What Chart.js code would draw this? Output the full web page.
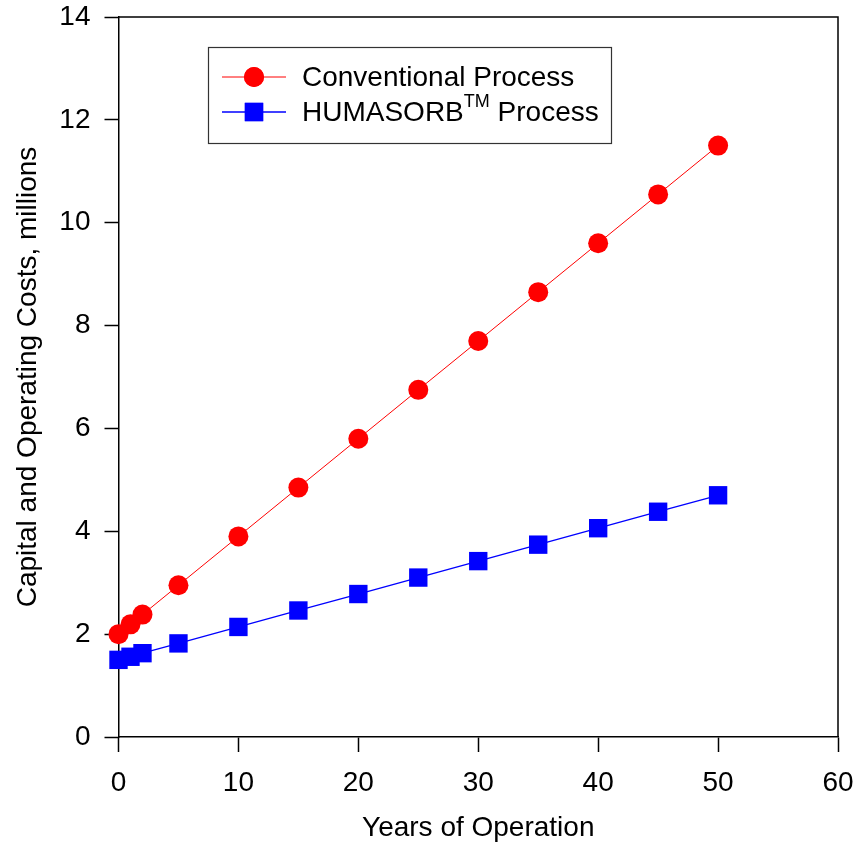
<!DOCTYPE html>
<html>
<head>
<meta charset="utf-8">
<script src="https://cdn.jsdelivr.net/npm/chart.js@4/dist/chart.umd.min.js"></script>
<style>
  html, body { margin: 0; padding: 0; background: #fff; }
  #wrap { width: 857px; height: 845px; position: relative; }
</style>
</head>
<body>
<div id="wrap"><canvas id="chartArea"></canvas></div>
<script>
'use strict'
// data
var years = [0, 1, 2, 5, 10, 15, 20, 25, 30, 35, 40, 45, 50];
var conventional = [2.0, 2.19, 2.38, 2.95, 3.9, 4.85, 5.8, 6.75, 7.7, 8.65, 9.6, 10.55, 11.5];
var humasorb = [1.5, 1.56, 1.63, 1.82, 2.14, 2.46, 2.78, 3.1, 3.42, 3.74, 4.06, 4.38, 4.7];
var xTicks = [0, 10, 20, 30, 40, 50, 60];
var yTicks = [0, 2, 4, 6, 8, 10, 12, 14];

var FONT = 'Liberation Sans, Arial, sans-serif';
var FSIZE = 28;

function pts(xs, ys) {
    let out = [];
    for (let i = 0; i < xs.length; i++) {
        out.push({x: xs[i], y: ys[i]});
    }
    return out;
}

// box round the plot (top and right sides)
const frame = {
    id: 'frame',
    afterDraw(chart) {
        let a = chart.chartArea;
        let ctx = chart.ctx;
        ctx.save();
        ctx.strokeStyle = '#000';
        ctx.lineWidth = 1.5;
        ctx.beginPath();
        ctx.moveTo(a.left, a.top);
        ctx.lineTo(a.right, a.top);
        ctx.lineTo(a.right, a.bottom);
        ctx.stroke();
        ctx.restore();
    }
};

// boxed legend inside the plot
const boxLegend = {
    id: 'boxLegend',
    afterDraw(chart) {
        let ctx = chart.ctx;
        ctx.save();
        ctx.strokeStyle = '#333';
        ctx.lineWidth = 1.2;
        ctx.strokeRect(208.5, 47.5, 403, 96);

        let rows = [
            {ds: chart.data.datasets[0], y: 77, text: 'Conventional Process'},
            {ds: chart.data.datasets[1], y: 112, text: 'HUMASORB', sup: 'TM', after: ' Process'}
        ];
        rows.forEach(function(r) {
            ctx.strokeStyle = r.ds.borderColor;
            ctx.lineWidth = r.ds.borderWidth;
            ctx.beginPath();
            ctx.moveTo(222, r.y);
            ctx.lineTo(286, r.y);
            ctx.stroke();
            ctx.fillStyle = r.ds.pointBackgroundColor;
            Chart.helpers.drawPoint(ctx, {
                pointStyle: r.ds.pointStyle,
                radius: r.ds.pointRadius,
                borderWidth: 0
            }, 254, r.y);
            ctx.fill();

            ctx.fillStyle = '#000';
            ctx.textBaseline = 'middle';
            ctx.textAlign = 'left';
            ctx.font = FSIZE + 'px ' + FONT;
            let x = 302;
            ctx.fillText(r.text, x, r.y + 1);
            if (r.sup) {
                x += ctx.measureText(r.text).width;
                ctx.font = '18px ' + FONT;
                ctx.fillText(r.sup, x, r.y - 10);
                x += ctx.measureText(r.sup).width;
                ctx.font = FSIZE + 'px ' + FONT;
                ctx.fillText(r.after, x, r.y + 1);
            }
        });
        ctx.restore();
    }
};

let ctx = document.getElementById('chartArea').getContext('2d');
let chart = new Chart(ctx, {
    type: 'line',
    data: {
        datasets: [{
            label: 'Conventional Process',
            data: pts(years, conventional),
            borderColor: '#ff0000',
            borderWidth: 1,
            pointStyle: 'circle',
            pointRadius: 10,
            pointBackgroundColor: '#ff0000',
            pointBorderWidth: 0,
            clip: false
        }, {
            label: 'HUMASORB Process',
            data: pts(years, humasorb),
            borderColor: '#0000ff',
            borderWidth: 1.3,
            pointStyle: 'rect',
            pointRadius: 13,
            pointBackgroundColor: '#0000ff',
            pointBorderWidth: 0,
            clip: false
        }]
    },
    options: {
        responsive: true,
        maintainAspectRatio: false,
        animation: false,
        layout: {
            padding: {left: 0, right: 19, top: 17, bottom: 0}
        },
        plugins: {
            legend: {display: false},
            tooltip: {enabled: false}
        },
        scales: {
            x: {
                type: 'linear',
                min: 0,
                max: 60,
                afterBuildTicks: function(scale) {
                    scale.ticks = xTicks.map(v => ({value: v}));
                },
                afterFit: function(scale) {
                    scale.height = 108;
                    scale.paddingLeft = 0;
                    scale.paddingRight = 0;
                },
                grid: {
                    drawOnChartArea: false,
                    drawTicks: true,
                    tickLength: 15,
                    tickWidth: 1.5,
                    tickColor: '#000'
                },
                border: {display: true, color: '#000', width: 1.5},
                ticks: {
                    color: '#000',
                    padding: 14,
                    maxRotation: 0,
                    font: {family: FONT, size: FSIZE}
                },
                title: {
                    display: true,
                    text: 'Years of Operation',
                    color: '#000',
                    padding: {top: 13, bottom: 0},
                    font: {family: FONT, size: FSIZE}
                }
            },
            y: {
                type: 'linear',
                min: 0,
                max: 14,
                afterBuildTicks: function(scale) {
                    scale.ticks = yTicks.map(v => ({value: v}));
                },
                afterFit: function(scale) {
                    scale.width = 118.5;
                    scale.paddingTop = 0;
                    scale.paddingBottom = 0;
                },
                grid: {
                    drawOnChartArea: false,
                    drawTicks: true,
                    tickLength: 14,
                    tickWidth: 1.5,
                    tickColor: '#000'
                },
                border: {display: true, color: '#000', width: 1.5},
                ticks: {
                    color: '#000',
                    padding: 14,
                    font: {family: FONT, size: FSIZE}
                },
                title: {
                    display: true,
                    text: 'Capital and Operating Costs, millions',
                    color: '#000',
                    padding: {top: 11, bottom: 0},
                    font: {family: FONT, size: FSIZE}
                }
            }
        }
    },
    plugins: [frame, boxLegend]
});
</script>
</body>
</html>
